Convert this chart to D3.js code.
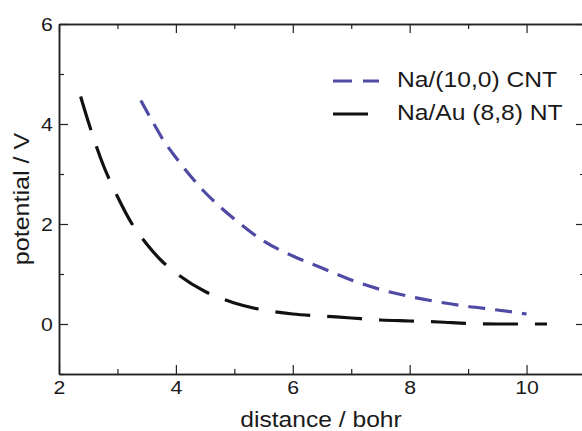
<!DOCTYPE html>
<html>
<head>
<meta charset="utf-8">
<script src="https://cdn.jsdelivr.net/npm/d3@7"></script>
<style>
  body { margin: 0; background: #fff; }
  svg { display: block; }
  text { font-family: "Liberation Sans", Arial, Helvetica, sans-serif; fill: #1a1a1a; }
</style>
</head>
<body>
<div id="chart"></div>
<script>
// Na/(10,0) CNT (blue short dashes)
var cntDistance = [3.4, 3.6, 3.8, 4.0, 4.25, 4.5, 4.75, 5.0, 5.5, 6.0, 6.5, 7.0, 7.5, 8.0, 8.5, 9.0, 9.5, 10.0];
var cntPotential = [4.47, 4.05, 3.65, 3.33, 2.96, 2.63, 2.35, 2.1, 1.66, 1.36, 1.12, 0.88, 0.69, 0.55, 0.44, 0.35, 0.28, 0.2];

// Na/Au (8,8) NT (black long dashes)
var auDistance = [2.37, 2.5, 2.75, 3.0, 3.25, 3.5, 3.75, 4.0, 4.5, 5.0, 5.5, 6.0, 6.5, 7.0, 7.5, 8.0, 8.5, 9.0, 9.5, 10.0, 10.35];
var auPotential = [4.55, 4.05, 3.2, 2.55, 2.0, 1.6, 1.27, 1.02, 0.65, 0.42, 0.28, 0.2, 0.16, 0.12, 0.08, 0.06, 0.04, 0.01, 0.0, 0.0, 0.0];

var seriesNames = ["Na/(10,0) CNT", "Na/Au (8,8) NT"];

var xMajorTicks = [2, 4, 6, 8, 10];
var xMinorTicks = [3, 5, 7, 9, 11];
var yMajorTicks = [0, 2, 4, 6];
var yMinorTicks = [-1, 1, 3, 5];

var xLabel = "distance / bohr";
var yLabel = "potential / V";

function zip(xs, ys) {
  return xs.map(function (d, i) { return { x: d, y: ys[i] }; });
}

var W = 582, H = 431;
var margin = { top: 24, right: -3, bottom: 57, left: 59 },
    width = W - margin.left - margin.right,
    height = H - margin.top - margin.bottom;

var svg = d3.select("#chart").append("svg")
    .attr("width", W)
    .attr("height", H)
  .append("g")
    .attr("transform", "translate(" + margin.left + "," + margin.top + ")");

var x = d3.scaleLinear().domain([2, 11]).range([0, width]);
var y = d3.scaleLinear().domain([-1, 6]).range([height, 0]);

// the original text is a bit wider than Arial, stretch it horizontally
var stretch = "scale(1.12,1)";
var axisColor = "#222";

// axes: major ticks 9px, minor 5px, all pointing inwards
function styleAxis(g) {
  g.select(".domain").attr("stroke", axisColor).attr("stroke-width", 1.5);
  g.selectAll(".tick line").attr("stroke", axisColor).attr("stroke-width", 1.2);
  g.selectAll(".tick text")
    .style("font-size", "19px")
    .attr("fill", "#1a1a1a")
    .attr("transform", stretch);
}

// bottom
svg.append("g")
    .attr("transform", "translate(0," + height + ")")
    .call(d3.axisBottom(x).tickValues(xMajorTicks).tickSize(-9).tickSizeOuter(0).tickPadding(7).tickFormat(d3.format("d")))
    .call(styleAxis);
svg.append("g")
    .attr("transform", "translate(0," + height + ")")
    .call(d3.axisBottom(x).tickValues(xMinorTicks).tickSize(-5).tickSizeOuter(0).tickFormat(""))
    .call(styleAxis);
// top
svg.append("g")
    .call(d3.axisTop(x).tickValues(xMajorTicks).tickSize(-9).tickSizeOuter(0).tickFormat(""))
    .call(styleAxis);
svg.append("g")
    .call(d3.axisTop(x).tickValues(xMinorTicks).tickSize(-5).tickSizeOuter(0).tickFormat(""))
    .call(styleAxis);
// left
svg.append("g")
    .call(d3.axisLeft(y).tickValues(yMajorTicks).tickSize(-9).tickSizeOuter(0).tickPadding(5.5).tickFormat(d3.format("d")))
    .call(styleAxis);
svg.append("g")
    .call(d3.axisLeft(y).tickValues(yMinorTicks).tickSize(-5).tickSizeOuter(0).tickFormat(""))
    .call(styleAxis);
// right
svg.append("g")
    .attr("transform", "translate(" + width + ",0)")
    .call(d3.axisRight(y).tickValues(yMajorTicks).tickSize(-9).tickSizeOuter(0).tickFormat(""))
    .call(styleAxis);
svg.append("g")
    .attr("transform", "translate(" + width + ",0)")
    .call(d3.axisRight(y).tickValues(yMinorTicks).tickSize(-5).tickSizeOuter(0).tickFormat(""))
    .call(styleAxis);

// axis titles
svg.append("text")
    .attr("transform", "translate(" + (width / 2 - 1) + "," + (height + 53) + ") " + stretch)
    .attr("text-anchor", "middle")
    .style("font-size", "22px")
    .text(xLabel);

svg.append("text")
    .attr("transform", "translate(" + (29 - margin.left) + "," + (height / 2) + ") rotate(-90) " + "scale(1.14,1)")
    .attr("text-anchor", "middle")
    .style("font-size", "22px")
    .text(yLabel);

// curves
var line = d3.line()
    .curve(d3.curveMonotoneX)
    .x(function (d) { return x(d.x); })
    .y(function (d) { return y(d.y); });

var series = [
  { name: seriesNames[0], data: zip(cntDistance, cntPotential), color: "#4f4aa3", dash: "17,10" },
  { name: seriesNames[1], data: zip(auDistance, auPotential), color: "#111", dash: "35,17" }
];

series.forEach(function (s) {
  svg.append("path")
      .datum(s.data)
      .attr("d", line)
      .attr("fill", "none")
      .attr("stroke", s.color)
      .attr("stroke-width", 3.2)
      .attr("stroke-dasharray", s.dash);
});

// legend
var legend = svg.append("g")
    .attr("transform", "translate(" + (333 - margin.left) + "," + (81 - margin.top) + ")");

series.forEach(function (s, i) {
  var row = legend.append("g").attr("transform", "translate(0," + (i * 33) + ")");
  row.append("line")
      .attr("x1", 0).attr("x2", 46)
      .attr("y1", 0).attr("y2", 0)
      .attr("stroke", s.color)
      .attr("stroke-width", 3.2)
      .attr("stroke-dasharray", i === 0 ? "19,11" : s.dash);
  row.append("text")
      .attr("transform", "translate(64,6) " + stretch)
      .style("font-size", "22px")
      .text(s.name);
});
</script>
</body>
</html>
